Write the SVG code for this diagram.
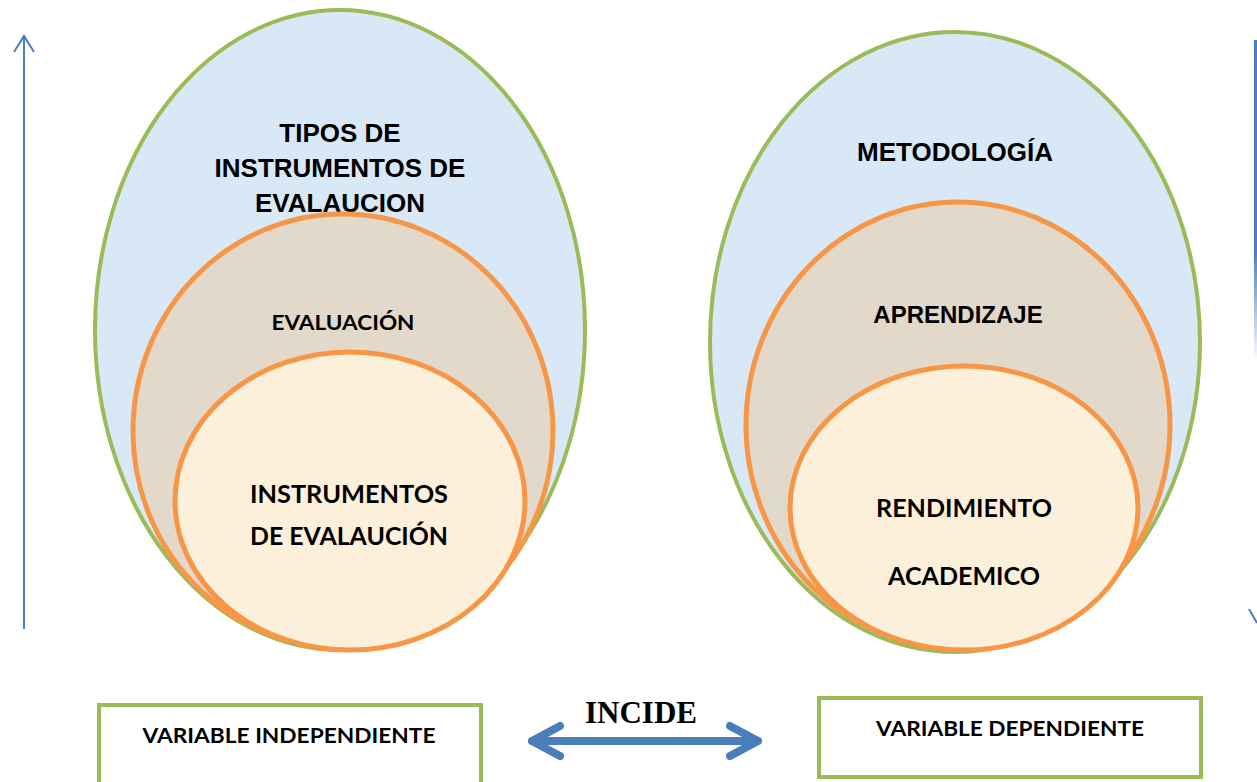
<svg xmlns="http://www.w3.org/2000/svg" width="1257" height="782" viewBox="0 0 1257 782">
  <defs>
    <style>
      .outer { fill: #D9E8F7; stroke: #9BBB59; stroke-width: 4; }
      .mid { fill: #E2D9CB; stroke: #F79646; stroke-width: 5; }
      .inner { fill: #FCF0DA; stroke: #F79646; stroke-width: 5; }
      .box { fill: #FFFFFF; stroke: #9BBB59; stroke-width: 4; }
      .arial { font-family: "Liberation Sans", Arial, sans-serif; font-weight: bold; fill: #000; text-anchor: middle; }
      .cal { font-family: Lato, "Noto Sans", sans-serif; font-weight: bold; fill: #000; text-anchor: middle; }
      .serif { font-family: "Liberation Serif", "Times New Roman", serif; font-weight: bold; fill: #000; text-anchor: middle; }
      .axis { stroke: #4A7EBF; stroke-width: 2; fill: none; }
      .incide { stroke: #4A7EBB; stroke-width: 8; fill: none; stroke-linecap: round; stroke-linejoin: round; }
    </style>
    <linearGradient id="fade" x1="0" y1="40" x2="0" y2="625" gradientUnits="userSpaceOnUse">
      <stop offset="0" stop-color="#4A7EBF" stop-opacity="1"/>
      <stop offset="0.36" stop-color="#4A7EBF" stop-opacity="1"/>
      <stop offset="0.55" stop-color="#4A7EBF" stop-opacity="0"/>
      <stop offset="1" stop-color="#4A7EBF" stop-opacity="0"/>
    </linearGradient>
  </defs>

  <g id="left-outer">
    <ellipse class="outer" cx="340" cy="330" rx="245" ry="320"/>
    <text class="arial" font-size="26" x="340" y="142">TIPOS DE</text>
    <text class="arial" font-size="26" x="340" y="177">INSTRUMENTOS DE</text>
    <text class="arial" font-size="26" x="340" y="212">EVALAUCION</text>
  </g>
  <g id="left-middle">
    <ellipse class="mid" cx="343" cy="431" rx="210" ry="217"/>
    <text class="cal" font-size="21" x="343" y="330" textLength="143" lengthAdjust="spacingAndGlyphs">EVALUACIÓN</text>
  </g>
  <g id="left-inner">
    <ellipse class="inner" cx="350" cy="501" rx="175" ry="149"/>
    <text class="cal" font-size="24" x="349" y="503" textLength="198" lengthAdjust="spacingAndGlyphs">INSTRUMENTOS</text>
    <text class="cal" font-size="24" x="349" y="545" textLength="198" lengthAdjust="spacingAndGlyphs">DE EVALAUCIÓN</text>
  </g>

  <g id="right-outer">
    <ellipse class="outer" cx="955" cy="342" rx="245" ry="310"/>
    <text class="arial" font-size="26" x="955" y="161">METODOLOGÍA</text>
  </g>
  <g id="right-middle">
    <ellipse class="mid" cx="958" cy="425" rx="212" ry="223"/>
    <text class="arial" font-size="24" x="958" y="323">APRENDIZAJE</text>
  </g>
  <g id="right-inner">
    <ellipse class="inner" cx="964" cy="508" rx="174" ry="142"/>
    <text class="cal" font-size="24" x="964" y="517" textLength="176" lengthAdjust="spacingAndGlyphs">RENDIMIENTO</text>
    <text class="cal" font-size="24" x="964" y="585" textLength="152" lengthAdjust="spacingAndGlyphs">ACADEMICO</text>
  </g>

  <g id="box-independiente">
    <rect class="box" x="99" y="705" width="382" height="100"/>
    <text class="cal" font-size="20" x="289" y="743" textLength="293" lengthAdjust="spacingAndGlyphs">VARIABLE INDEPENDIENTE</text>
  </g>
  <g id="box-dependiente">
    <rect class="box" x="819" y="698" width="382" height="79"/>
    <text class="cal" font-size="20" x="1010" y="736" textLength="268" lengthAdjust="spacingAndGlyphs">VARIABLE DEPENDIENTE</text>
  </g>

  <g id="incide-label">
    <text class="serif" font-size="31" x="641" y="723">INCIDE</text>
  </g>

  <g id="connectors">
    <path class="incide" d="M532 741 H758 M560 726 L532 741 L560 756 M730 726 L758 741 L730 756"/>
    <path class="axis" d="M24 629 V36 M14 52 L24 36 L34 52"/>
    <line x1="1255.5" y1="40" x2="1255.5" y2="624" stroke="url(#fade)" stroke-width="3"/>
    <path class="axis" d="M1249 609 L1257 623"/>
  </g>
</svg>
